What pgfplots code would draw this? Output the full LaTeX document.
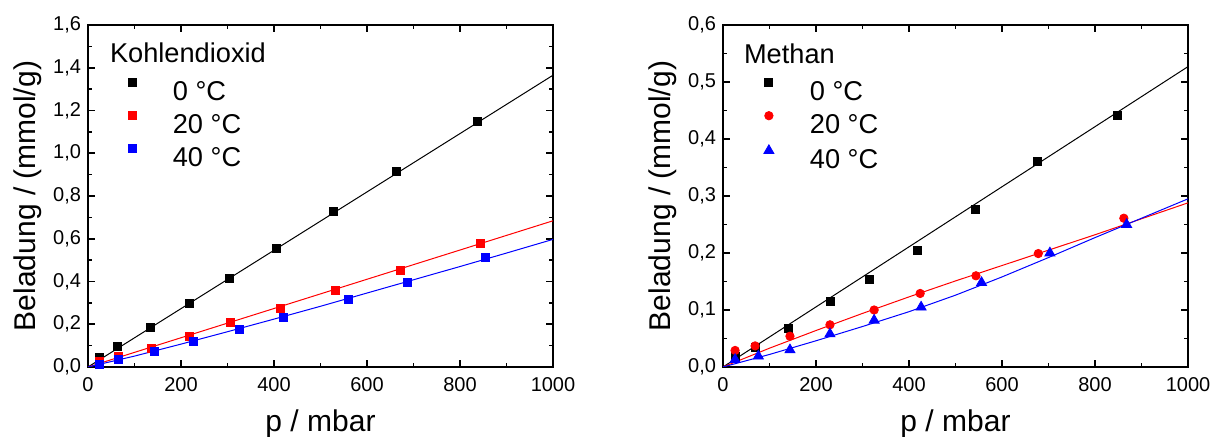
\documentclass[border=0pt]{standalone}
\usepackage{fontspec}
\setmainfont{Liberation Sans}
\usepackage{pgfplots}
\pgfplotsset{compat=1.18}

\tikzset{gasname/.style={anchor=base west, yshift=-19pt, font=\fontsize{13.6}{16}\selectfont}}

\pgfplotsset{
  isoplot/.style={
    scale only axis, width=232.5pt, height=171pt, anchor=south west,
    xmin=0, xmax=1000, xtick={0,200,...,1000}, minor x tick num=1,
    minor y tick num=1,
    tick align=inside,
    major tick length=3.5pt, minor tick length=2pt,
    tick style={black, line width=0.8pt},
    axis line style={line width=1pt},
    tick label style={font=\fontsize{10}{12}\selectfont},
    /pgf/number format/assume math mode=true,
    xticklabel style={/pgf/number format/1000 sep={}, yshift=-1.5pt},
    yticklabel style={/pgf/number format/.cd, use comma, fixed, fixed zerofill, precision=1},
    xlabel={p / mbar},
    ylabel={Beladung / (mmol/g)},
    every axis x label/.style={at={(rel axis cs:0.5,0)}, yshift=-32.5pt, anchor=base,
      font=\fontsize{15}{18}\selectfont},
    every axis y label/.style={at={(rel axis cs:0,0.5)}, xshift=-30pt, rotate=90, anchor=center,
      font=\fontsize{15}{18}\selectfont},
    legend style={at={(rel axis cs:0.087,0.845)}, anchor=north west, draw=none, fill=none,
      inner sep=0pt, row sep=5.6pt, font=\fontsize{13.6}{16}\selectfont,
      nodes={inner sep=0pt, text depth=0pt},
      /tikz/every odd column/.append style={column sep=18pt}},
    legend cell align=left,
    legend image code/.code={\draw[#1] plot coordinates {(0pt,4.2pt)};},
  },
  fit/.style={line width=0.5pt, no marks, forget plot},
  pts/.style={only marks, mark size=2pt},
}

\begin{document}
\begin{tikzpicture}
\useasboundingbox (0,0) rectangle (608pt,218.5pt);

% Kohlendioxid
\begin{axis}[isoplot, at={(44pt,35pt)}, ymin=0, ymax=1.6, ytick={0,0.2,...,1.6}]
  \addplot[fit, black] coordinates {(0,0) (1000,1.365)};
  \addplot[fit, red]   coordinates {(0,0) (1000,0.684)};
  \addplot[fit, blue]  coordinates {
    (0,0) (100,0.051) (200,0.107) (300,0.165) (400,0.224) (500,0.284)
    (600,0.346) (700,0.408) (800,0.470) (900,0.533) (1000,0.597)};
  \addplot[pts, black, mark=square*] coordinates {
    (24,0.044) (64,0.095) (135,0.184) (217,0.299) (305,0.413)
    (405,0.557) (528,0.727) (664,0.914) (837,1.148)};
  \addlegendentry{0 °C}
  \addplot[pts, red, mark=square*] coordinates {
    (24,0.025) (65,0.048) (137,0.087) (219,0.142) (307,0.207)
    (413,0.273) (533,0.360) (671,0.451) (843,0.577)};
  \addlegendentry{20 °C}
  \addplot[pts, blue, mark=square*] coordinates {
    (24,0.014) (65,0.036) (142,0.071) (226,0.122) (325,0.178)
    (421,0.232) (560,0.316) (687,0.396) (855,0.514)};
  \addlegendentry{40 °C}
  \node[gasname, xshift=7.5pt] at (rel axis cs:0,1) {Kohlendioxid};
\end{axis}

% Methan
\begin{axis}[isoplot, at={(361.5pt,35pt)}, ymin=0, ymax=0.6, ytick={0,0.1,...,0.6}]
  \addplot[fit, black] coordinates {(0,0) (1000,0.527)};
  \addplot[fit, red] coordinates {
    (0,0) (100,0.033) (200,0.064) (300,0.094) (400,0.123) (500,0.151)
    (600,0.178) (700,0.205) (800,0.232) (900,0.260) (1000,0.288)};
  \addplot[fit, blue] coordinates {
    (0,0) (100,0.022) (200,0.046) (300,0.071) (400,0.097) (500,0.126)
    (600,0.158) (700,0.192) (800,0.227) (900,0.261) (1000,0.295)};
  \addplot[pts, black, mark=square*] coordinates {
    (26,0.018) (70,0.035) (140,0.068) (230,0.115) (314,0.154)
    (417,0.204) (543,0.277) (676,0.361) (848,0.441)};
  \addlegendentry{0 °C}
  \addplot[pts, red, mark=*, mark size=2.1pt] coordinates {
    (26,0.029) (69,0.037) (144,0.054) (230,0.074) (325,0.100)
    (424,0.129) (544,0.160) (678,0.199) (862,0.261)};
  \addlegendentry{20 °C}
  \addplot[pts, blue, mark=triangle*, mark size=2.9pt] coordinates {
    (26,0.013) (76,0.019) (144,0.030) (230,0.058) (325,0.082)
    (426,0.105) (556,0.148) (703,0.200) (868,0.250)};
  \addlegendentry{40 °C}
  \node[gasname, xshift=7pt] at (rel axis cs:0,1) {Methan};
\end{axis}
\end{tikzpicture}
\end{document}
